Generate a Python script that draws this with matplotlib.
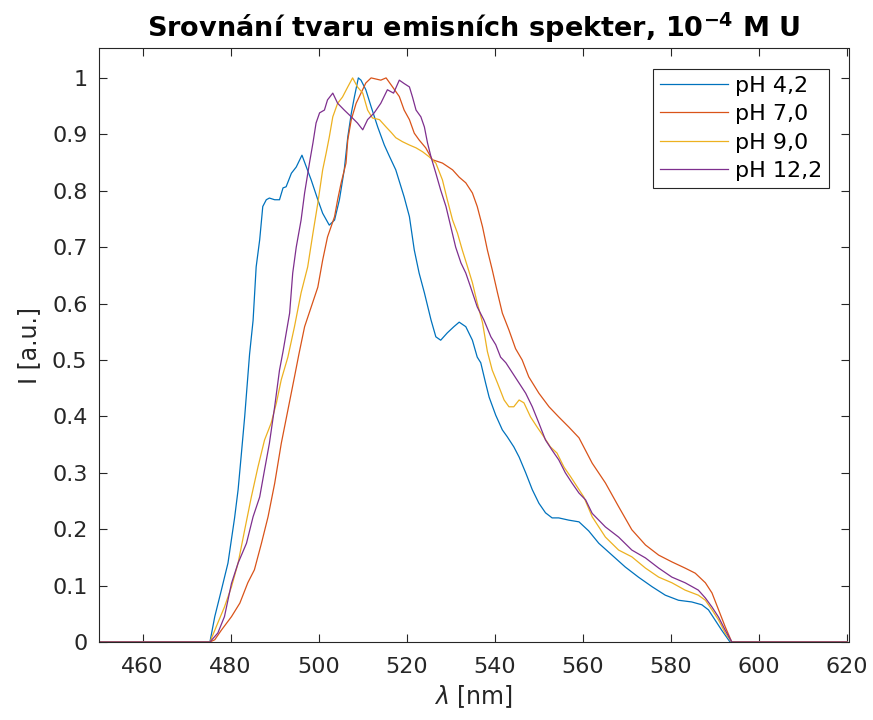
import matplotlib
matplotlib.use("Agg")
import matplotlib.pyplot as plt
from matplotlib.ticker import FuncFormatter

# spectra (wavelength in nm, normalised intensity)
wl_ph42 = [450, 475.3, 476.4, 477.9, 479.4, 480.9, 481.7, 482.4, 483.2, 483.9, 484.3, 485.1, 485.8, 486.6,
           487.3, 488.1, 488.8, 490.0, 491.1, 491.9, 492.6, 493.8, 494.9, 496.2, 497.2, 498.3, 499.8, 500.9,
           502.4, 503.6, 504.7, 505.8, 506.6, 507.4, 508.1, 509.0, 509.6, 510.7, 511.9, 513.4, 514.9, 516.0,
           517.5, 519.4, 520.6, 521.7, 522.8, 524.0, 525.5, 526.6, 527.7, 529.2, 530.7, 531.9, 533.4, 534.9,
           536.0, 536.8, 537.9, 538.7, 540.2, 541.7, 542.8, 544.3, 545.5, 547.0, 548.5, 550.0, 551.5, 553.0,
           554.5, 556.8, 559.1, 561.3, 563.6, 566.6, 569.6, 572.6, 575.7, 578.7, 581.7, 584.7, 587.0, 588.5,
           590.0, 591.5, 593.4, 620]
i_ph42 = [0, 0, 0.045, 0.092, 0.14, 0.22, 0.27, 0.33, 0.40, 0.47, 0.51, 0.57, 0.665, 0.713,
          0.772, 0.784, 0.787, 0.784, 0.784, 0.805, 0.807, 0.831, 0.842, 0.863, 0.842, 0.819, 0.784, 0.76,
          0.739, 0.748, 0.784, 0.837, 0.895, 0.937, 0.966, 1.0, 0.996, 0.979, 0.949, 0.913, 0.881, 0.862,
          0.837, 0.789, 0.754, 0.695, 0.654, 0.619, 0.571, 0.541, 0.535, 0.548, 0.559, 0.567, 0.559, 0.535,
          0.505, 0.495, 0.459, 0.434, 0.402, 0.376, 0.364, 0.346, 0.328, 0.30, 0.27, 0.246, 0.229, 0.22,
          0.22, 0.216, 0.213, 0.197, 0.175, 0.154, 0.133, 0.115, 0.098, 0.083, 0.074, 0.071, 0.066, 0.057,
          0.039, 0.021, 0, 0]

wl_ph70 = [450, 475.3, 476.4, 477.9, 480.2, 482.1, 483.9, 485.4, 487.0, 488.5, 490.0, 491.5, 493.0, 494.5,
           495.5, 496.8, 498.3, 499.8, 500.9, 502.0, 503.6, 504.3, 505.1, 506.2, 506.6, 507.4, 508.5, 509.6,
           510.7, 511.9, 514.1, 515.3, 516.5, 518.3, 519.4, 520.6, 521.7, 522.8, 524.3, 525.8, 528.1, 530.4,
           531.9, 533.4, 534.9, 536.0, 537.2, 538.3, 539.4, 540.6, 541.7, 543.2, 544.7, 546.2, 547.7, 550.0,
           552.3, 554.5, 556.8, 559.1, 562.1, 565.1, 568.1, 571.1, 574.2, 577.2, 580.2, 583.2, 585.5, 587.8,
           589.3, 590.8, 592.3, 593.8, 620]
i_ph70 = [0, 0, 0.004, 0.021, 0.045, 0.069, 0.105, 0.128, 0.175, 0.222, 0.281, 0.352, 0.411, 0.47,
          0.51, 0.559, 0.594, 0.629, 0.677, 0.718, 0.754, 0.784, 0.814, 0.849, 0.89, 0.926, 0.955, 0.973,
          0.991, 1.0, 0.996, 1.0, 0.987, 0.967, 0.943, 0.926, 0.902, 0.89, 0.876, 0.855, 0.849, 0.837,
          0.824, 0.814, 0.796, 0.772, 0.736, 0.695, 0.66, 0.619, 0.583, 0.553, 0.52, 0.5, 0.47, 0.441,
          0.417, 0.399, 0.381, 0.362, 0.317, 0.282, 0.24, 0.199, 0.172, 0.154, 0.142, 0.131, 0.122, 0.105,
          0.087, 0.057, 0.027, 0, 0]

wl_ph90 = [450, 475.3, 477.1, 478.6, 480.2, 481.7, 483.2, 484.7, 486.2, 487.7, 489.2, 490.4, 491.5, 493.0,
           494.5, 496.0, 497.5, 498.7, 499.8, 500.9, 501.7, 502.4, 503.2, 504.3, 505.4, 506.6, 507.7, 508.8,
           510.0, 511.1, 512.2, 513.8, 515.3, 516.5, 517.5, 519.0, 520.6, 522.1, 523.6, 525.1, 526.6, 528.1,
           529.2, 530.4, 531.5, 532.6, 533.8, 534.9, 536.0, 537.2, 538.3, 539.4, 540.6, 542.1, 543.2, 544.3,
           545.5, 546.6, 548.1, 549.6, 551.1, 552.6, 554.1, 555.7, 557.2, 558.7, 560.2, 562.1, 565.1, 568.1,
           571.1, 574.2, 577.2, 580.2, 583.2, 586.2, 587.8, 589.3, 590.8, 592.3, 593.8, 620]
i_ph90 = [0, 0, 0.034, 0.062, 0.098, 0.14, 0.199, 0.257, 0.31, 0.358, 0.388, 0.424, 0.465, 0.505,
          0.559, 0.619, 0.665, 0.725, 0.778, 0.837, 0.867, 0.895, 0.931, 0.955, 0.966, 0.984, 1.0, 0.984,
          0.973, 0.943, 0.929, 0.926, 0.913, 0.903, 0.894, 0.887, 0.881, 0.876, 0.869, 0.86, 0.849, 0.819,
          0.784, 0.748, 0.725, 0.695, 0.665, 0.637, 0.601, 0.566, 0.515, 0.482, 0.459, 0.429, 0.417, 0.417,
          0.429, 0.424, 0.399, 0.381, 0.364, 0.346, 0.335, 0.31, 0.293, 0.275, 0.257, 0.222, 0.186, 0.163,
          0.151, 0.131, 0.115, 0.105, 0.092, 0.083, 0.074, 0.057, 0.039, 0.016, 0, 0]

wl_ph122 = [450, 475.3, 477.1, 478.6, 480.2, 481.7, 483.6, 485.1, 486.6, 487.7, 488.8, 490.0, 491.1, 491.9,
            493.4, 494.1, 494.9, 496.0, 496.8, 497.9, 498.7, 499.4, 500.2, 501.3, 502.0, 503.2, 504.3, 505.8,
            507.4, 508.8, 510.0, 511.1, 512.6, 514.1, 515.6, 517.0, 518.3, 519.4, 520.6, 521.3, 522.1, 523.2,
            524.0, 524.7, 525.5, 526.6, 527.7, 528.9, 530.0, 531.1, 532.3, 533.4, 534.5, 536.0, 537.5, 539.1,
            540.2, 541.3, 542.5, 544.0, 545.5, 547.0, 548.5, 550.0, 551.5, 553.0, 554.5, 556.0, 557.5, 559.1,
            560.6, 562.1, 565.1, 568.1, 571.1, 574.2, 577.2, 580.2, 583.2, 586.2, 587.8, 589.3, 590.8, 592.3,
            593.8, 620]
i_ph122 = [0, 0, 0.016, 0.045, 0.104, 0.14, 0.175, 0.222, 0.257, 0.305, 0.352, 0.417, 0.482, 0.515,
           0.583, 0.654, 0.7, 0.748, 0.796, 0.849, 0.885, 0.92, 0.938, 0.943, 0.961, 0.973, 0.955, 0.943,
           0.931, 0.92, 0.908, 0.926, 0.938, 0.955, 0.979, 0.973, 0.996, 0.99, 0.984, 0.966, 0.943, 0.931,
           0.913, 0.885, 0.86, 0.831, 0.801, 0.772, 0.736, 0.7, 0.672, 0.654, 0.629, 0.594, 0.571, 0.541,
           0.527, 0.505, 0.495, 0.477, 0.459, 0.441, 0.417, 0.388, 0.358, 0.34, 0.323, 0.3, 0.282, 0.264,
           0.252, 0.228, 0.204, 0.186, 0.163, 0.149, 0.131, 0.115, 0.105, 0.092, 0.078, 0.062, 0.044, 0.021,
           0, 0]

labels = ["pH 4,2", "pH 7,0", "pH 9,0", "pH 12,2"]
colors = ["#0072BD", "#D95319", "#EDB120", "#7E2F8E"]

axis_col = "#262626"
plt.rcParams["font.family"] = "DejaVu Sans"

fig = plt.figure(figsize=(8.73, 7.2), dpi=100)
# axes box: left 98.5 px, right 848.5 px, top 48 px, bottom 642 px
ax = fig.add_axes([98.5 / 873, 78 / 720, 750 / 873, 594 / 720])

series = [(wl_ph42, i_ph42), (wl_ph70, i_ph70), (wl_ph90, i_ph90), (wl_ph122, i_ph122)]
for (wl, inten), lab, col in zip(series, labels, colors):
    ax.plot(wl, inten, color=col, lw=0.9, label=lab)

ax.set_xlim(450, 620.3)
ax.set_ylim(0, 1.053)
ax.set_xticks(range(460, 621, 20))
ax.set_yticks([i / 10 for i in range(11)])
ax.yaxis.set_major_formatter(FuncFormatter(lambda v, p: "%g" % round(v, 2)))

ax.tick_params(direction="in", length=5.5, width=0.8, colors=axis_col, labelsize=16,
               top=True, right=True, pad=8)
ax.tick_params(axis="x", pad=11)
for sp in ax.spines.values():
    sp.set_color(axis_col)
    sp.set_linewidth(0.8)

ax.set_xlabel(r"$\lambda$ [nm]", fontsize=17, color=axis_col, labelpad=4)
ax.set_ylabel("I [a.u.]", fontsize=17, color=axis_col, labelpad=8)
ax.set_title(r"Srovnání tvaru emisních spekter, $\mathbf{10^{-4}}$ M U", fontsize=19.5,
             fontweight="bold", pad=8)

leg = ax.legend(loc="upper right", bbox_to_anchor=(829 / 873, 1 - 69 / 720),
                bbox_transform=fig.transFigure, borderaxespad=0, fontsize=16,
                fancybox=False, framealpha=1, handlelength=3.1, handletextpad=0.3,
                labelspacing=0.38, borderpad=0.3)
leg.get_frame().set_edgecolor(axis_col)
leg.get_frame().set_linewidth(0.8)

fig.savefig("out.png", dpi=100)
